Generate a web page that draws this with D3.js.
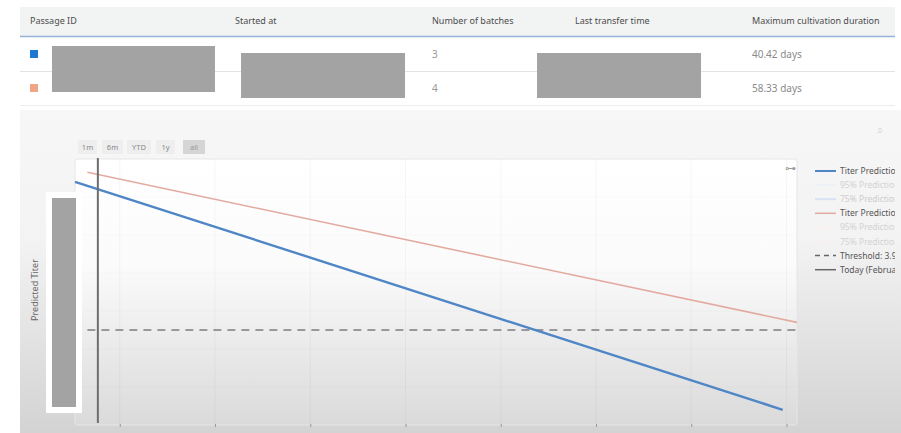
<!DOCTYPE html>
<html>
<head>
<meta charset="utf-8">
<script src="https://cdn.jsdelivr.net/npm/d3@7"></script>
<style>
  body { margin: 0; background: #fff; }
  svg { display: block; font-family: "Noto Sans", "Open Sans", sans-serif; }
</style>
</head>
<body>
<div id="chart"></div>
<script>
// Table content
const columns = ["Passage ID", "Started at", "Number of batches", "Last transfer time", "Maximum cultivation duration"];
const batchCounts = ["3", "4"];
const durations = ["40.42 days", "58.33 days"];
const rowColors = ["#1f77d4", "#f0a488"];

// Prediction series (x in tick units, y = predicted titer)
const blueSeries = [{ x: -0.47, y: 4.68 }, { x: 6.96, y: 3.48 }];
const orangeSeries = [{ x: -0.34, y: 4.73 }, { x: 7.11, y: 3.94 }];
const threshold = 3.9;
const thresholdStart = -0.34;
const today = -0.23;
const xTicks = [0, 1, 2, 3, 4, 5, 6, 7];
const yGrid = [3.6, 3.8, 4.0, 4.2, 4.4, 4.6];
const rangeButtons = ["1m", "6m", "YTD", "1y", "all"];
const legendLabels = ["Titer Prediction", "95% Prediction", "75% Prediction", "Titer Prediction",
    "95% Prediction", "75% Prediction", "Threshold: 3.9", "Today (February)"];

const W = 901, H = 433;
const svg = d3.select("#chart").append("svg").attr("width", W).attr("height", H);
const defs = svg.append("defs");

// ---------- table ----------
const colX = [30, 235, 432, 575, 752];
svg.append("rect").attr("x", 20).attr("y", 7).attr("width", 875).attr("height", 29).attr("fill", "#f2f3f3");
svg.append("line").attr("x1", 20).attr("x2", 895).attr("y1", 36.5).attr("y2", 36.5)
    .attr("stroke", "#93b3da").attr("stroke-width", 1.5);
svg.selectAll(".hdr").data(columns).enter().append("text")
    .attr("x", (d, i) => colX[i]).attr("y", 24)
    .attr("font-size", "9px").attr("fill", "#4d4d4d").text(d => d);

const rowY = [54, 88];
svg.append("line").attr("x1", 20).attr("x2", 895).attr("y1", 71.5).attr("y2", 71.5).attr("stroke", "#e3e3e3");
svg.append("line").attr("x1", 20).attr("x2", 895).attr("y1", 105.5).attr("y2", 105.5).attr("stroke", "#ececec");
svg.selectAll(".sq").data(rowColors).enter().append("rect")
    .attr("x", 30).attr("y", (d, i) => rowY[i] - 4).attr("width", 8).attr("height", 8).attr("fill", d => d);
svg.selectAll(".cnt").data(batchCounts).enter().append("text")
    .attr("x", colX[2]).attr("y", (d, i) => rowY[i] + 4)
    .attr("font-size", "10px").attr("fill", "#999").text(d => d);
svg.selectAll(".dur").data(durations).enter().append("text")
    .attr("x", colX[4]).attr("y", (d, i) => rowY[i] + 4)
    .attr("font-size", "10px").attr("fill", "#8a8a8a").text(d => d);
// redacted cells
[[52, 46, 163, 46], [241, 53, 164, 45], [537, 53, 164, 45]].forEach(r => {
    svg.append("rect").attr("x", r[0]).attr("y", r[1]).attr("width", r[2]).attr("height", r[3]).attr("fill", "#a3a3a3");
});

// ---------- chart panel ----------
const pg = defs.append("linearGradient").attr("id", "panelGrad").attr("x1", 0).attr("y1", 0).attr("x2", 0).attr("y2", 1);
pg.append("stop").attr("offset", "0%").attr("stop-color", "#f7f7f7");
pg.append("stop").attr("offset", "40%").attr("stop-color", "#f3f3f3");
pg.append("stop").attr("offset", "100%").attr("stop-color", "#d3d3d3");
svg.append("rect").attr("x", 20).attr("y", 110).attr("width", 881).attr("height", 323).attr("fill", "url(#panelGrad)");

const plot = { left: 75, right: 797, top: 159, bottom: 425 };
const ag = defs.append("linearGradient").attr("id", "plotGrad").attr("x1", 0).attr("y1", 0).attr("x2", 0).attr("y2", 1);
ag.append("stop").attr("offset", "0%").attr("stop-color", "#ffffff");
ag.append("stop").attr("offset", "40%").attr("stop-color", "#fbfbfb");
ag.append("stop").attr("offset", "100%").attr("stop-color", "#dadada");
svg.append("rect").attr("x", plot.left).attr("y", plot.top)
    .attr("width", plot.right - plot.left).attr("height", plot.bottom - plot.top)
    .attr("fill", "url(#plotGrad)").attr("stroke", "#e6e6e6").attr("rx", 2);

const x = d3.scaleLinear().domain([-0.47, 7.11]).range([plot.left, plot.right]);
const y = d3.scaleLinear().domain([3.4, 4.8]).range([plot.bottom, plot.top]);

// grid (very faint)
svg.append("g").selectAll("line").data(xTicks).enter().append("line")
    .attr("x1", d => x(d)).attr("x2", d => x(d)).attr("y1", plot.top).attr("y2", plot.bottom)
    .attr("stroke", "#000").attr("stroke-opacity", 0.035);
svg.append("g").selectAll("line").data(yGrid).enter().append("line")
    .attr("x1", plot.left).attr("x2", plot.right).attr("y1", d => y(d)).attr("y2", d => y(d))
    .attr("stroke", "#000").attr("stroke-opacity", 0.02);

// x axis (labels unreadable in source)
const xAxis = svg.append("g").attr("transform", `translate(0,${plot.bottom - 1})`)
    .call(d3.axisBottom(x).tickValues(xTicks).tickSize(3).tickFormat(""));
xAxis.select(".domain").remove();
xAxis.selectAll("line").attr("stroke", "#9a9a9a");

// range buttons
const btnX = [78, 102, 127, 156, 183], btnW = [19, 21, 24, 19, 22];
const btns = svg.append("g");
rangeButtons.forEach((b, i) => {
    btns.append("rect").attr("x", btnX[i]).attr("y", 140).attr("width", btnW[i]).attr("height", 14)
        .attr("fill", b === "all" ? "#d5d5d5" : "#eeeeee");
    btns.append("text").attr("x", btnX[i] + btnW[i] / 2).attr("y", 150).attr("text-anchor", "middle")
        .attr("font-size", "7.5px").attr("fill", b === "all" ? "#999" : "#888").text(b);
});

// threshold
svg.append("line").attr("x1", x(thresholdStart)).attr("x2", plot.right)
    .attr("y1", y(threshold)).attr("y2", y(threshold))
    .attr("stroke", "#7d7d7d").attr("stroke-width", 1.6).attr("stroke-dasharray", "8,6");

const line = d3.line().x(d => x(d.x)).y(d => y(d.y));
svg.append("path").datum(orangeSeries).attr("d", line)
    .attr("fill", "none").attr("stroke", "#e3aaa0").attr("stroke-width", 1.6);
svg.append("path").datum(blueSeries).attr("d", line)
    .attr("fill", "none").attr("stroke", "#4f86c6").attr("stroke-width", 2.4);

// today line
svg.append("line").attr("x1", x(today)).attr("x2", x(today)).attr("y1", plot.top - 1).attr("y2", plot.bottom - 2)
    .attr("stroke", "#6e6e6e").attr("stroke-width", 2);

// y label and redacted axis
svg.append("rect").attr("x", 46).attr("y", 192).attr("width", 36).attr("height", 221).attr("fill", "#ffffff");
svg.append("rect").attr("x", 52).attr("y", 198).attr("width", 24).attr("height", 209).attr("fill", "#a3a3a3");
svg.append("text").attr("transform", "translate(38,290) rotate(-90)")
    .attr("text-anchor", "middle").attr("font-size", "9px").attr("fill", "#666").text("Predicted Titer");

// small reset-zoom icon and toolbar hint
svg.append("text").attr("x", 790).attr("y", 172).attr("text-anchor", "middle")
    .attr("font-size", "11px").attr("fill", "#999").text("⊶");
svg.append("text").attr("x", 880).attr("y", 134).attr("text-anchor", "middle")
    .attr("font-size", "11px").attr("fill", "#d8d8d8").text("⌕");

// ---------- legend ----------
defs.append("clipPath").attr("id", "legClip").append("rect")
    .attr("x", 805).attr("y", 150).attr("width", 90).attr("height", 140);
const legStyles = [
    { c: "#4f86c6", w: 2, dash: null, t: "#555" },
    { c: "#eef2f7", w: 2, dash: null, t: "#d2d2d2" },
    { c: "#d7e3f3", w: 2, dash: null, t: "#cdcdcd" },
    { c: "#e3aaa0", w: 1.5, dash: null, t: "#555" },
    { c: "#f7f1ef", w: 2, dash: null, t: "#d2d2d2" },
    { c: "#f4eeee", w: 2, dash: null, t: "#d2d2d2" },
    { c: "#666", w: 1.5, dash: "5,4", t: "#555" },
    { c: "#666", w: 1.5, dash: null, t: "#555" }
];
const leg = svg.append("g").attr("clip-path", "url(#legClip)");
legendLabels.forEach((l, i) => {
    const ly = 171 + i * 14.1;
    const s = legStyles[i];
    leg.append("line").attr("x1", 815).attr("x2", 836).attr("y1", ly).attr("y2", ly)
        .attr("stroke", s.c).attr("stroke-width", s.w).attr("stroke-dasharray", s.dash);
    leg.append("text").attr("x", 840).attr("y", ly + 3).attr("font-size", "8.5px")
        .attr("fill", s.t).text(l);
});
</script>
</body>
</html>
